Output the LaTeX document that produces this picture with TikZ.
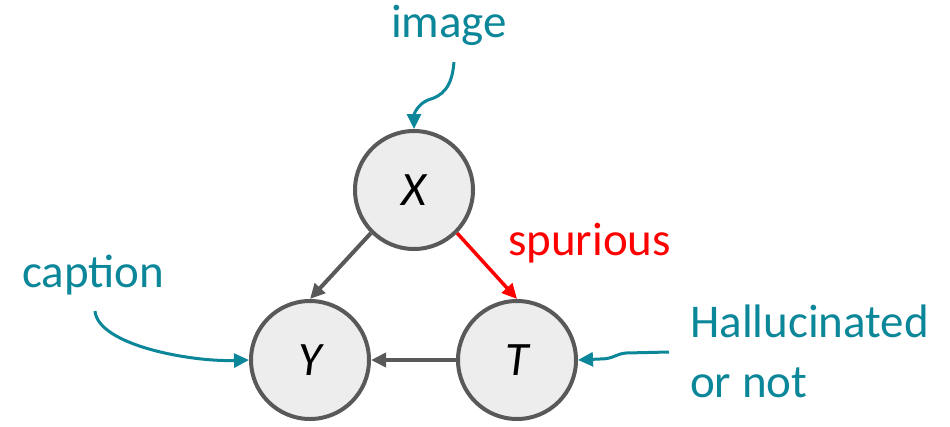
\documentclass[tikz,border=0pt]{standalone}
\usepackage{fontspec}
\setmainfont{Carlito}
\usetikzlibrary{arrows.meta}
\definecolor{annotcol}{HTML}{0B8799}
\definecolor{edgegray}{HTML}{595959}
\definecolor{nodefill}{HTML}{EDEDED}
\definecolor{spurred}{HTML}{FF0000}
\begin{document}
\begin{tikzpicture}[x=1pt,y=-1pt,
  var/.style={circle,draw=edgegray,fill=nodefill,line width=4pt,
    minimum size=118pt,inner sep=0pt,font=\fontsize{48}{56}\selectfont\itshape},
  edge/.style={draw=edgegray,line width=4pt,-{Triangle[length=15pt,width=14pt]}},
  badedge/.style={draw=spurred,line width=3.5pt,-{Triangle[length=15pt,width=14pt]}},
  annot/.style={draw=annotcol,line width=3pt,-{Triangle[length=15pt,width=14pt]}},
  lbl/.style={inner sep=0pt,font=\fontsize{47}{56}\selectfont}]
\useasboundingbox (0,0) rectangle (950,426);

% variables
\node[var] (X) at (414,190) {X};
\node[var] (Y) at (310,360) {Y};
\node[var] (T) at (517,360) {T};

% causal edges
\draw[edge] (X.-135) -- (Y.north);
\draw[badedge] (X.-45) -- (T.north);
\draw[edge] (T.west) -- (Y.east);

% labels
\node[lbl,text=annotcol,anchor=base] (limg) at (449,37) {image};
\node[lbl,text=annotcol,anchor=base west] (lcap) at (22,287) {caption};
\node[lbl,text=spurred,anchor=base west] (lspur) at (508,255) {spurious};
\node[lbl,text=annotcol,anchor=base west] (lhal1) at (690,337) {Hallucinated};
\node[lbl,text=annotcol,anchor=base west] (lhal2) at (690,397) {or not};

% annotation pointers
\coordinate (imgtail) at (454,62);
\coordinate (captail) at (95,311);
\coordinate (haltail) at (669,352);
\draw[annot] (imgtail) .. controls (452,88) and (442,96) .. (428,100)
  .. controls (418,104) and (414,114) .. (X.north);
\draw[annot] (captail) .. controls (98,345) and (190,362) .. (Y.west);
\draw[annot] (haltail) -- (626,353) .. controls (615,354) and (614,359) .. (600,359) -- (T.east);
\end{tikzpicture}
\end{document}
